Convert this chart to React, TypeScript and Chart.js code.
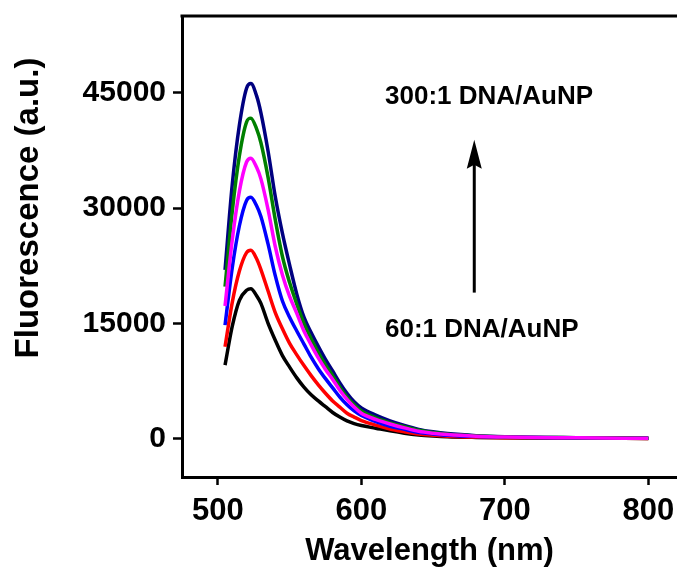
import React, { useEffect, useRef } from "react";
import { Chart, registerables } from "chart.js";

Chart.register(...registerables);

const wavelengths = [505, 510, 515, 520, 523, 527, 530, 535, 540, 545, 550, 555, 560, 565, 570, 575, 580, 585, 590, 595, 600, 610, 620, 630, 640, 650, 660, 680, 700, 750, 800];

const ratio300 = [21950, 33000, 40800, 45600, 46200, 44600, 42400, 37400, 31500, 26700, 22600, 18800, 15800, 13800, 12000, 10300, 8800, 7250, 5900, 4800, 4000, 3050, 2300, 1700, 1200, 880, 650, 380, 250, 120, 50];
const ratio250 = [19770, 29500, 36800, 41200, 41700, 40300, 38500, 34000, 28500, 23700, 20300, 17500, 15000, 13000, 11200, 9600, 8200, 6700, 5400, 4400, 3600, 2700, 2050, 1550, 1080, 780, 580, 350, 220, 110, 40];
const ratio200 = [17250, 25800, 32200, 36000, 36500, 35300, 33800, 29800, 25000, 21300, 18500, 16300, 14000, 12200, 10500, 9000, 7700, 6300, 5100, 4100, 3300, 2500, 1900, 1400, 950, 700, 520, 310, 200, 100, 30];
const ratio150 = [14770, 22200, 27700, 31000, 31400, 30300, 28900, 25300, 21200, 17900, 15800, 14000, 12300, 10600, 9100, 7800, 6600, 5400, 4400, 3600, 3000, 2200, 1600, 1200, 800, 600, 430, 260, 170, 80, 30];
const ratio100 = [11950, 17700, 21800, 24200, 24500, 23400, 22000, 19200, 16400, 14300, 12400, 10900, 9500, 8200, 7000, 5900, 4900, 4100, 3300, 2800, 2350, 1750, 1250, 900, 600, 430, 300, 180, 120, 60, 20];
const ratio60 = [9560, 14600, 18000, 19300, 19500, 18600, 17600, 15000, 12800, 10800, 9300, 7900, 6700, 5700, 4900, 4150, 3400, 2800, 2300, 1950, 1700, 1350, 1000, 700, 480, 340, 240, 150, 100, 50, 20];

const xTicks = [500, 600, 700, 800];
const yTicks = [0, 15000, 30000, 45000];

const topLabel = "300:1 DNA/AuNP";
const bottomLabel = "60:1 DNA/AuNP";
const xTitle = "Wavelength (nm)";
const yTitle = "Fluorescence (a.u.)";

const FONT = "'Liberation Sans', Arial, sans-serif";

const series = [
  { label: "200:1", values: ratio200, color: "#FF00FF" },
  { label: "250:1", values: ratio250, color: "#008000" },
  { label: "300:1", values: ratio300, color: "#000080" },
  { label: "150:1", values: ratio150, color: "#0000FF" },
  { label: "100:1", values: ratio100, color: "#FF0000" },
  { label: "60:1", values: ratio60, color: "#000000" },
];

const decorPlugin = {
  id: "decor",
  afterDraw(chart: any) {
    const ctx = chart.ctx;
    const area = chart.chartArea;
    const xs = chart.scales.x;
    const ys = chart.scales.y;
    ctx.save();
    // top frame line
    ctx.strokeStyle = "#000";
    ctx.lineWidth = 3;
    ctx.beginPath();
    ctx.moveTo(area.left - 1.5, area.top);
    ctx.lineTo(chart.width, area.top);
    ctx.stroke();

    // annotations
    ctx.fillStyle = "#000";
    ctx.font = `bold 26px ${FONT}`;
    ctx.textAlign = "left";
    ctx.textBaseline = "middle";
    const lx = xs.getPixelForValue(616.5);
    ctx.fillText(topLabel, lx, ys.getPixelForValue(44500));
    ctx.fillText(bottomLabel, lx, ys.getPixelForValue(14100));

    // arrow
    const ax = xs.getPixelForValue(678.7);
    const aBottom = ys.getPixelForValue(19000);
    const aTip = ys.getPixelForValue(38900);
    ctx.lineWidth = 3;
    ctx.beginPath();
    ctx.moveTo(ax, aBottom);
    ctx.lineTo(ax, aTip + 20);
    ctx.stroke();
    ctx.beginPath();
    ctx.moveTo(ax, aTip);
    ctx.lineTo(ax - 7.5, aTip + 29);
    ctx.lineTo(ax, aTip + 25);
    ctx.lineTo(ax + 7.5, aTip + 29);
    ctx.closePath();
    ctx.fill();

    // y axis title
    ctx.save();
    ctx.translate(29, 208);
    ctx.rotate(-Math.PI / 2);
    ctx.font = `bold 33px ${FONT}`;
    ctx.textAlign = "center";
    ctx.textBaseline = "middle";
    ctx.fillText(yTitle, 0, 0);
    ctx.restore();
    ctx.restore();
  },
};

export default function App() {
  const ref = useRef<HTMLCanvasElement | null>(null);
  useEffect(() => {
    if (!ref.current) return;
    const chart = new Chart(ref.current, {
      type: "line",
      data: {
        datasets: series.map((s) => ({
          label: s.label,
          data: wavelengths.map((w, i) => ({ x: w, y: s.values[i] })),
          borderColor: s.color,
          backgroundColor: s.color,
          borderWidth: 3.5,
          pointRadius: 0,
          cubicInterpolationMode: "monotone" as const,
          fill: false,
        })),
      },
      options: {
        animation: false,
        responsive: true,
        maintainAspectRatio: false,
        layout: { padding: { top: 16, right: 0, bottom: 0, left: 0 } },
        plugins: {
          legend: { display: false },
          tooltip: { enabled: false },
        },
        scales: {
          x: {
            type: "linear",
            min: 475,
            max: 820,
            afterBuildTicks: (s: any) => {
              s.ticks = xTicks.map((v) => ({ value: v }));
            },
            afterFit: (s: any) => {
              s.height = 91;
              s.paddingLeft = 0;
              s.paddingRight = 0;
            },
            border: { display: true, color: "#000", width: 3 },
            grid: {
              display: true,
              drawOnChartArea: false,
              drawTicks: true,
              tickLength: 8,
              tickWidth: 2.5,
              tickColor: "#000",
            },
            ticks: {
              color: "#000",
              padding: 8,
              maxRotation: 0,
              font: { family: FONT, size: 31, weight: "bold" },
            },
            title: {
              display: true,
              text: xTitle,
              color: "#000",
              font: { family: FONT, size: 31, weight: "bold", lineHeight: 1 },
              padding: { top: 0, bottom: 1 },
            },
          },
          y: {
            type: "linear",
            min: -5000,
            max: 55000,
            afterBuildTicks: (s: any) => {
              s.ticks = yTicks.map((v) => ({ value: v }));
            },
            afterFit: (s: any) => {
              s.width = 182;
              s.paddingTop = 0;
              s.paddingBottom = 0;
            },
            border: { display: true, color: "#000", width: 3 },
            grid: {
              display: true,
              drawOnChartArea: false,
              drawTicks: true,
              tickLength: 9,
              tickWidth: 2.5,
              tickColor: "#000",
            },
            ticks: {
              color: "#000",
              padding: 7,
              font: { family: FONT, size: 30, weight: "bold" },
              callback: (v: any) => String(v),
            },
          },
        },
      },
      plugins: [decorPlugin],
    });
    return () => chart.destroy();
  }, []);
  return (
    <div style={{ position: "absolute", left: 0, top: 0, width: 677, height: 568, background: "#fff" }}>
      <canvas ref={ref} />
    </div>
  );
}
